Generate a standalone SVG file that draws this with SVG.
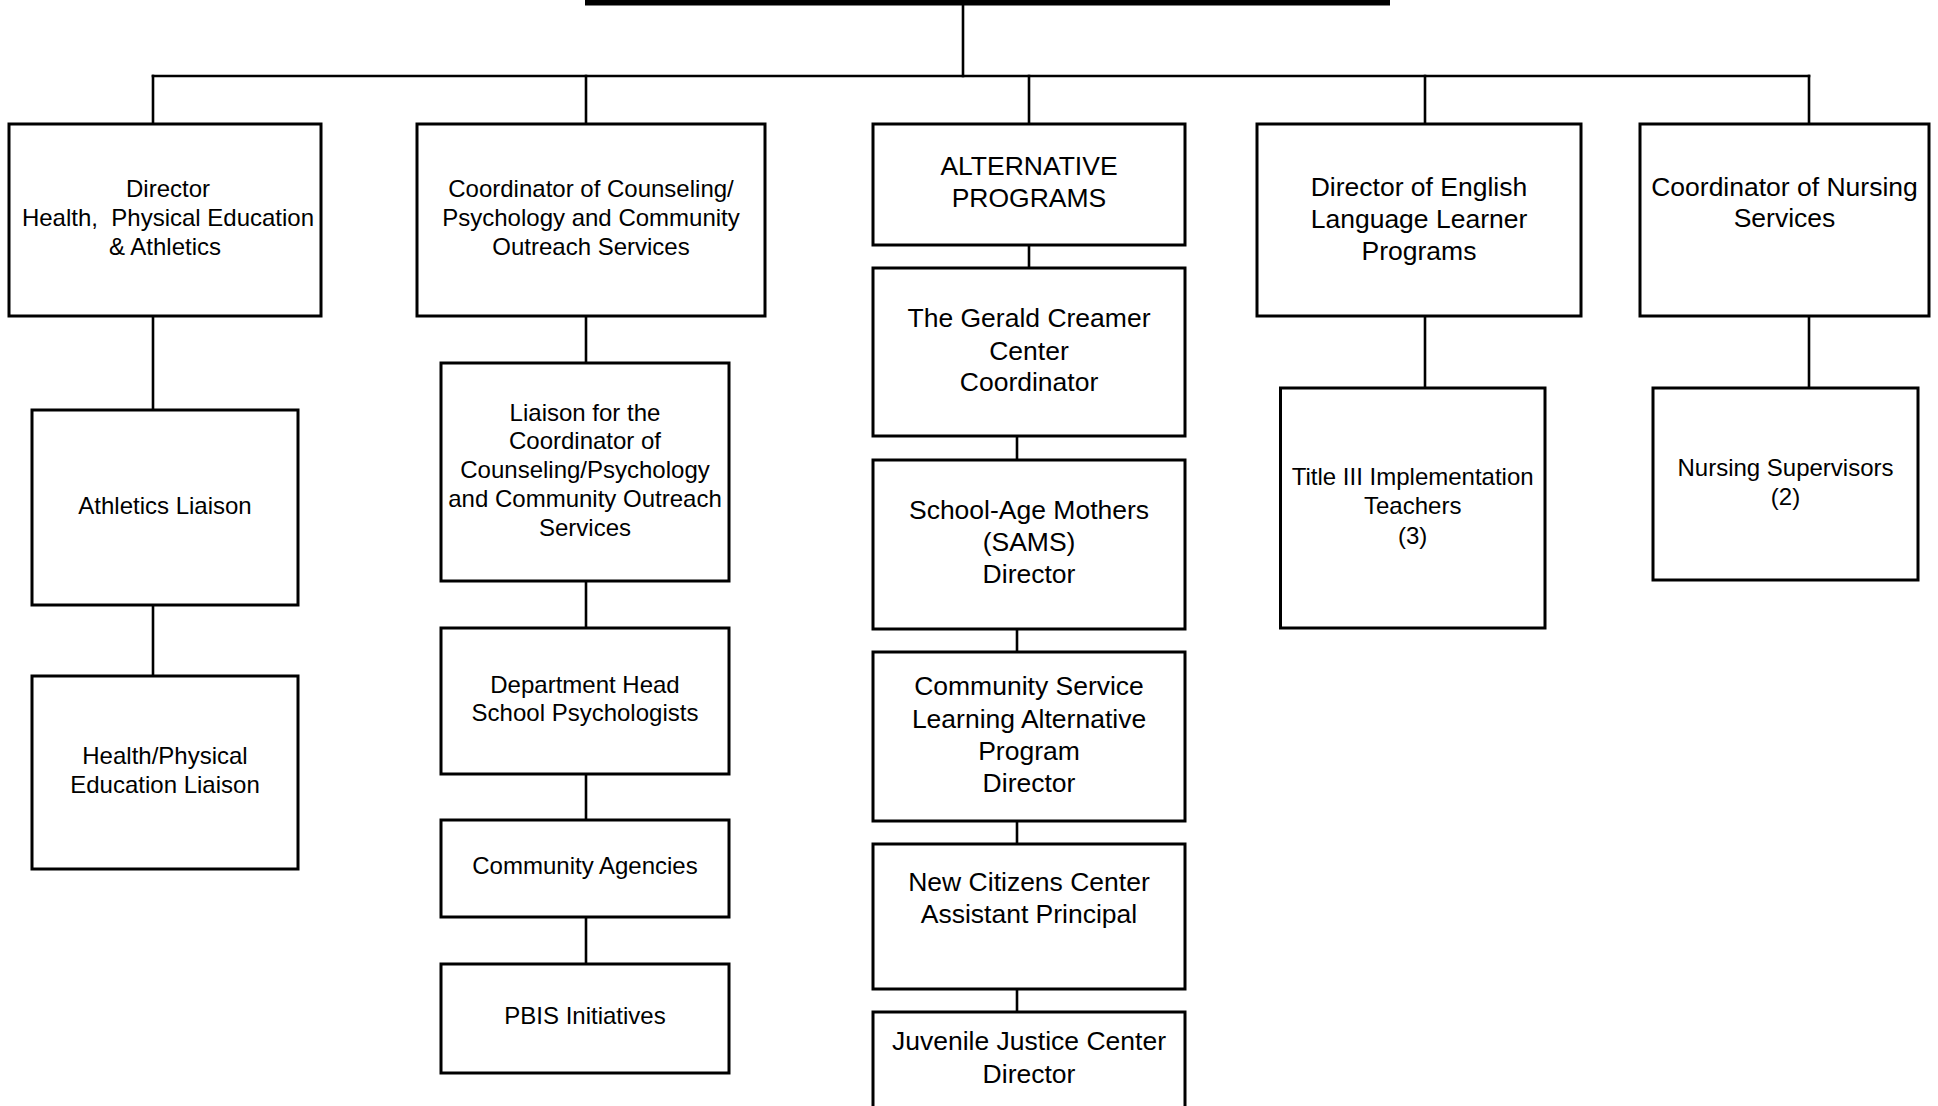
<svg xmlns="http://www.w3.org/2000/svg" width="1938" height="1106" viewBox="0 0 1938 1106">
<style>
  .box { fill: #ffffff; stroke: #000000; stroke-width: 3; }
  .conn { stroke: #000000; stroke-width: 2.6; fill: none; stroke-linecap: square; }
  text { font-family: "Liberation Sans", Arial, sans-serif; fill: #000000; text-anchor: middle; white-space: pre; }
  .s { font-size: 24px; }
  .l { font-size: 26.5px; }
</style>
<rect x="0" y="0" width="1938" height="1106" fill="#ffffff"/>
<g id="root-bar">
  <rect x="585" y="-1" width="805" height="6.5" fill="#000000"/>
</g>
<g id="connectors">
  <line class="conn" x1="963" y1="5" x2="963" y2="76"/>
  <line class="conn" x1="153" y1="76" x2="1809" y2="76"/>
  <line class="conn" x1="153" y1="76" x2="153" y2="124"/>
  <line class="conn" x1="586" y1="76" x2="586" y2="124"/>
  <line class="conn" x1="1029" y1="76" x2="1029" y2="124"/>
  <line class="conn" x1="1425" y1="76" x2="1425" y2="124"/>
  <line class="conn" x1="1809" y1="76" x2="1809" y2="124"/>
  <line class="conn" x1="153" y1="316" x2="153" y2="410"/>
  <line class="conn" x1="153" y1="605" x2="153" y2="676"/>
  <line class="conn" x1="586" y1="316" x2="586" y2="363"/>
  <line class="conn" x1="586" y1="581" x2="586" y2="628"/>
  <line class="conn" x1="586" y1="774" x2="586" y2="820"/>
  <line class="conn" x1="586" y1="917" x2="586" y2="964"/>
  <line class="conn" x1="1029" y1="245" x2="1029" y2="268"/>
  <line class="conn" x1="1017" y1="436" x2="1017" y2="460"/>
  <line class="conn" x1="1017" y1="629" x2="1017" y2="652"/>
  <line class="conn" x1="1017" y1="821" x2="1017" y2="844"/>
  <line class="conn" x1="1017" y1="989" x2="1017" y2="1012"/>
  <line class="conn" x1="1425" y1="316" x2="1425" y2="388"/>
  <line class="conn" x1="1809" y1="316" x2="1809" y2="388"/>
</g>
<g id="dir-health">
  <rect class="box" x="9" y="124" width="312" height="192"/>
  <text class="s" x="168" y="197.3">Director</text>
  <text class="s" x="168" y="226.3">Health,  Physical Education</text>
  <text class="s" x="165" y="255.3">&amp; Athletics</text>
</g>
<g id="coord-counseling">
  <rect class="box" x="417" y="124" width="348" height="192"/>
  <text class="s" x="591" y="197.3">Coordinator of Counseling/</text>
  <text class="s" x="591" y="226.3">Psychology and Community</text>
  <text class="s" x="591" y="255.3">Outreach Services</text>
</g>
<g id="alternative-programs">
  <rect class="box" x="873" y="124" width="312" height="121"/>
  <text class="l" x="1029" y="174.5">ALTERNATIVE</text>
  <text class="l" x="1029" y="207">PROGRAMS</text>
</g>
<g id="dir-ell">
  <rect class="box" x="1257" y="124" width="324" height="192"/>
  <text class="l" x="1419" y="195.5">Director of English</text>
  <text class="l" x="1419" y="227.5">Language Learner</text>
  <text class="l" x="1419" y="259.5">Programs</text>
</g>
<g id="coord-nursing">
  <rect class="box" x="1640" y="124" width="289" height="192"/>
  <text class="l" x="1784.5" y="195.5">Coordinator of Nursing</text>
  <text class="l" x="1784.5" y="227">Services</text>
</g>
<g id="athletics-liaison">
  <rect class="box" x="32" y="410" width="266" height="195"/>
  <text class="s" x="165" y="514.4">Athletics Liaison</text>
</g>
<g id="health-pe-liaison">
  <rect class="box" x="32" y="676" width="266" height="193"/>
  <text class="s" x="165" y="764.4">Health/Physical</text>
  <text class="s" x="165" y="792.8">Education Liaison</text>
</g>
<g id="liaison-coord">
  <rect class="box" x="441" y="363" width="288" height="218"/>
  <text class="s" x="585" y="420.8">Liaison for the</text>
  <text class="s" x="585" y="449.4">Coordinator of</text>
  <text class="s" x="585" y="478.4">Counseling/Psychology</text>
  <text class="s" x="585" y="507.4">and Community Outreach</text>
  <text class="s" x="585" y="535.8">Services</text>
</g>
<g id="dept-head">
  <rect class="box" x="441" y="628" width="288" height="146"/>
  <text class="s" x="585" y="692.5">Department Head</text>
  <text class="s" x="585" y="721.1">School Psychologists</text>
</g>
<g id="community-agencies">
  <rect class="box" x="441" y="820" width="288" height="97"/>
  <text class="s" x="585" y="874.1">Community Agencies</text>
</g>
<g id="pbis">
  <rect class="box" x="441" y="964" width="288" height="109"/>
  <text class="s" x="585" y="1023.8">PBIS Initiatives</text>
</g>
<g id="gerald-creamer">
  <rect class="box" x="873" y="268" width="312" height="168"/>
  <text class="l" x="1029" y="327.3">The Gerald Creamer</text>
  <text class="l" x="1029" y="359.5">Center</text>
  <text class="l" x="1029" y="391.3">Coordinator</text>
</g>
<g id="sams">
  <rect class="box" x="873" y="460" width="312" height="169"/>
  <text class="l" x="1029" y="519.1">School-Age Mothers</text>
  <text class="l" x="1029" y="551.1">(SAMS)</text>
  <text class="l" x="1029" y="583.3">Director</text>
</g>
<g id="community-service">
  <rect class="box" x="873" y="652" width="312" height="169"/>
  <text class="l" x="1029" y="695.3">Community Service</text>
  <text class="l" x="1029" y="727.6">Learning Alternative</text>
  <text class="l" x="1029" y="759.8">Program</text>
  <text class="l" x="1029" y="791.8">Director</text>
</g>
<g id="new-citizens">
  <rect class="box" x="873" y="844" width="312" height="145"/>
  <text class="l" x="1029" y="890.8">New Citizens Center</text>
  <text class="l" x="1029" y="922.8">Assistant Principal</text>
</g>
<g id="juvenile-justice">
  <rect class="box" x="873" y="1012" width="312" height="120"/>
  <text class="l" x="1029" y="1050.3">Juvenile Justice Center</text>
  <text class="l" x="1029" y="1082.6">Director</text>
</g>
<g id="title-iii">
  <rect class="box" x="1280.5" y="388" width="264.5" height="240"/>
  <text class="s" x="1412.7" y="485.3">Title III Implementation</text>
  <text class="s" x="1412.7" y="514.3">Teachers</text>
  <text class="s" x="1412.7" y="543.8">(3)</text>
</g>
<g id="nursing-supervisors">
  <rect class="box" x="1653" y="388" width="265" height="192"/>
  <text class="s" x="1785.5" y="476.3">Nursing Supervisors</text>
  <text class="s" x="1785.5" y="504.8">(2)</text>
</g>
</svg>
